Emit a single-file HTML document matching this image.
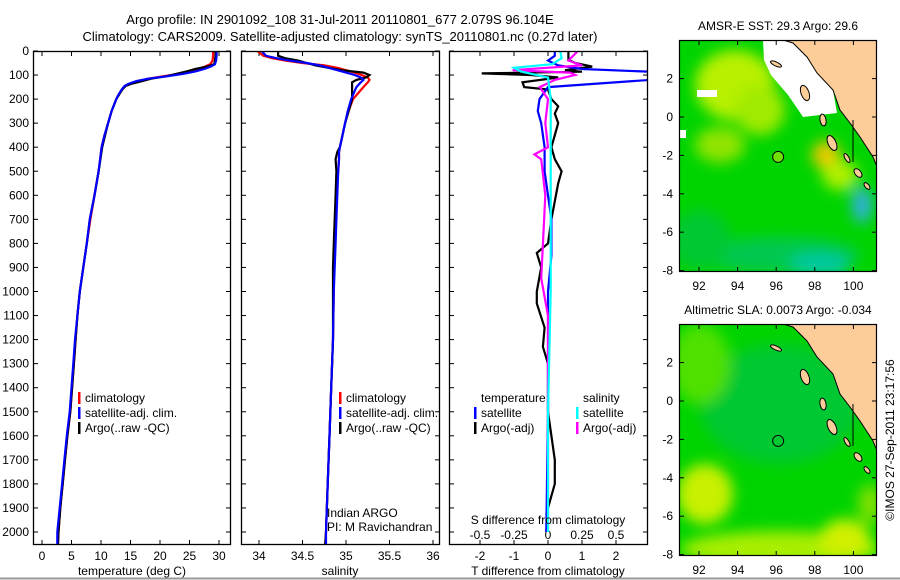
<!DOCTYPE html>
<html><head><meta charset="utf-8"><style>
html,body{margin:0;padding:0;background:#fff;}
svg{display:block;font-family:"Liberation Sans",sans-serif;}
</style></head><body>
<svg id="fig" width="900" height="580" viewBox="0 0 900 580" xmlns="http://www.w3.org/2000/svg">
<defs>
<filter id="blur" x="-20%" y="-20%" width="140%" height="140%"><feGaussianBlur stdDeviation="7"/></filter>
<clipPath id="clipP1"><rect x="33" y="51" width="198" height="494"/></clipPath>
<clipPath id="clipP2"><rect x="241" y="51" width="199" height="494"/></clipPath>
<clipPath id="clipP3"><rect x="449" y="51" width="199" height="494"/></clipPath>
<clipPath id="clipM1"><rect x="679" y="40" width="198" height="232"/></clipPath>
<clipPath id="clipM2"><rect x="679" y="324" width="198" height="232"/></clipPath>
</defs>
<text x="340" y="24" font-size="13" text-anchor="middle">Argo profile: IN 2901092_108 31-Jul-2011 20110801_677 2.079S 96.104E</text>
<text x="340" y="41" font-size="13" text-anchor="middle">Climatology: CARS2009. Satellite-adjusted climatology: synTS_20110801.nc (0.27d later)</text>
<g id="g1"></g>
<g id="g2"></g>
<g id="g3"></g>
<g id="gm1"></g>
<g id="gm2"></g>
<text transform="translate(894,440) rotate(-90)" font-size="12" text-anchor="middle">©IMOS 27-Sep-2011 23:17:56</text>
<line x1="0" y1="578.5" x2="900" y2="578.5" stroke="#999" stroke-width="2"/>
</svg>
<script>
// ---- Temperature profile data ----
const tDepth=[0,20,40,55,65,75,85,95,105,115,125,135,145,160,180,200,250,300,350,400,500,600,700,800,900,1000,1100,1200,1300,1400,1500,1600,1700,1800,1900,2000,2060];
const argoT=[29.4,29.4,29.3,29.2,28.0,26.0,24.5,22.8,21.0,18.5,17.0,15.3,14.2,13.6,13.1,12.6,11.8,11.2,10.7,10.2,9.6,8.9,8.1,7.6,7.0,6.4,6.0,5.7,5.4,5.1,4.8,4.3,3.9,3.5,3.1,2.8,2.7];
const climT=[29.0,29.0,28.9,28.5,27.6,26.6,25.0,23.2,20.5,18.0,16.5,15.0,14.2,13.6,13.0,12.6,11.8,11.2,10.6,10.1,9.6,8.9,8.2,7.6,7.0,6.4,6.0,5.7,5.4,5.1,4.8,4.3,3.9,3.5,3.1,2.8,2.7];
const satT=[29.6,29.6,29.5,29.3,28.6,27.5,26.0,24.0,21.2,18.0,16.0,14.8,14.0,13.5,13.0,12.6,11.8,11.2,10.6,10.1,9.6,8.9,8.1,7.6,7.0,6.4,6.0,5.6,5.3,5.0,4.7,4.2,3.8,3.4,3.0,2.6,2.6];
const tTicks=[0,5,10,15,20,25,30];
// ---- Salinity profile data ----
const sDepth=[0,20,30,40,50,60,70,80,90,100,110,120,130,150,200,250,300,350,400,420,450,500,600,700,800,900,1000,1200,1400,1600,1800,2000,2060];
const argoS=[34.22,34.22,34.3,34.45,34.55,34.65,34.8,34.95,35.2,35.27,35.23,35.12,35.07,35.07,35.07,35.03,34.99,34.96,34.93,34.9,34.88,34.89,34.88,34.87,34.86,34.85,34.85,34.85,34.83,34.81,34.79,34.77,34.76];
const climS=[33.98,34.05,34.15,34.3,34.5,34.75,34.9,35.0,35.1,35.18,35.25,35.27,35.25,35.2,35.08,35.03,34.99,34.96,34.93,34.92,34.92,34.91,34.89,34.88,34.87,34.86,34.86,34.85,34.83,34.81,34.79,34.77,34.76];
const satS=[34.03,34.08,34.2,34.35,34.55,34.7,34.8,34.9,35.0,35.1,35.17,35.2,35.17,35.12,35.06,35.02,34.99,34.96,34.93,34.92,34.92,34.91,34.9,34.89,34.88,34.87,34.86,34.85,34.83,34.81,34.79,34.77,34.77];
const sTicks=[34,34.5,35,35.5,36];
// ---- Difference data ----
const dtArgoDepth=[0,37,50,65,80,86,93,100,110,130,150,160,200,230,260,300,350,400,450,500,550,700,800,840,900,1000,1050,1150,1230,1300,1500,1700,1800,1900,2000];
const dtArgo=[0.6,0.6,0.8,1.3,0.5,1.0,-1.95,-0.5,0.3,-0.75,-0.7,0.0,0.1,0.3,0.2,0.3,0.2,0.1,0.2,0.4,0.3,0.1,0.0,-0.33,-0.2,-0.33,-0.33,-0.1,-0.15,0.0,0.0,0.2,0.2,0.0,-0.05];
const dtSatDepth=[0,20,40,60,75,95,105,150,170,200,250,300,400,500,600,700,850,1000,1500,2000];
const dtSat=[0.2,0.2,0.0,0.3,1.0,4.5,4.5,0.0,-0.1,-0.25,-0.3,-0.2,-0.1,-0.1,0.0,0.1,0.1,0.0,0.0,-0.05];
const dsSatDepth=[0,30,55,70,85,110,200,500,1000,1500,2000];
const dsSat=[0.09,0.1,0.03,-0.25,-0.2,0.0,0.02,0.02,0.02,0.0,0.0];
const dsArgoDepth=[0,40,60,80,90,100,120,150,200,300,400,430,450,600,830,945,1100,1500,2000];
const dsArgo=[0.22,0.15,0.25,-0.26,0.16,0.2,0.05,-0.06,0.0,-0.02,0.0,-0.1,-0.05,-0.02,-0.04,-0.05,0.0,0.0,0.0];
const dtTicks=[-2,-1,0,1,2];
const dsTicks=[-0.5,-0.25,0,0.25,0.5];
const depthTicks=[0,100,200,300,400,500,600,700,800,900,1000,1100,1200,1300,1400,1500,1600,1700,1800,1900,2000];
const latTicks=[2,0,-2,-4,-6,-8];
const lonTicks=[92,94,96,98,100];

const NS='http://www.w3.org/2000/svg';
function mk(tag,attrs,parent){const e=document.createElementNS(NS,tag);for(const k in attrs)e.setAttribute(k,attrs[k]);parent.appendChild(e);return e;}
const yD=d=>51+d*0.2405;
const xT=v=>42+5.9*v;
const xS=v=>259+87*(v-34);
const xDT=v=>548+34*v;
const xDS=v=>548+136*v;

function frame(g,x0,x1,name){
  const r=mk('rect',{x:x0+0.5,y:51.5,width:x1-x0-1,height:493,fill:'none',stroke:'#000','stroke-width':1.3},g);
  
  
}
function line(g,depths,vals,xf,color,clip,name){
  const p=depths.map((d,i)=>xf(vals[i]).toFixed(1)+','+yD(d).toFixed(1)).join(' ');
  const e=mk('polyline',{points:p,fill:'none',stroke:color,'stroke-width':2.2,'clip-path':'url(#'+clip+')'},g);
  
  
}
function xticks(g,ticks,xf,labY,fmt,top){
  ticks.forEach(t=>{
    const x=xf(t);
    mk('line',{x1:x,y1:545,x2:x,y2:540,stroke:'#000'},g);
    if(top) mk('line',{x1:x,y1:51,x2:x,y2:56,stroke:'#000'},g);
    if(labY){const tx=mk('text',{x:x,y:labY,'font-size':12,'text-anchor':'middle'},g);tx.textContent=fmt?fmt(t):t;
      
      }
  });
}
function yticks(g,x0,x1,labels){
  depthTicks.forEach(d=>{
    const y=yD(d);
    mk('line',{x1:x0,y1:y,x2:x0+5,y2:y,stroke:'#000'},g);
    mk('line',{x1:x1,y1:y,x2:x1-5,y2:y,stroke:'#000'},g);
    if(labels){const t=mk('text',{x:29,y:y+4,'font-size':12,'text-anchor':'end'},g);t.textContent=d;
      
      }
  });
}
function txt(g,x,y,s,name,anchor){const t=mk('text',{x:x,y:y,'font-size':12,'text-anchor':anchor||'start'},g);t.textContent=s;
  
  return t;}
function legendItem(g,x,y,color,label,name){
  mk('rect',{x:x,y:y-10,width:2.5,height:12,fill:color},g);
  txt(g,x+7,y,label,name);
}
// Panel 1
const g1=document.getElementById('g1');
yticks(g1,33,231,true);
xticks(g1,tTicks,xT,560,null,true);
line(g1,tDepth,climT,xT,'#f00','clipP1','climatology-temp-line');
line(g1,tDepth,argoT,xT,'#000','clipP1','argo-temp-line');
line(g1,tDepth,satT,xT,'#00f','clipP1','satellite-temp-line');
frame(g1,33,231,'temperature-axes-frame');
txt(g1,132,575,'temperature (deg C)','x-axis-title-temperature','middle');
legendItem(g1,78,402,'#f00','climatology','legend-climatology');
legendItem(g1,78,417,'#00f','satellite-adj. clim.','legend-satellite-adj');
legendItem(g1,78,432,'#000','Argo(..raw -QC)','legend-argo');
// Panel 2
const g2=document.getElementById('g2');
yticks(g2,241,440,false);
xticks(g2,sTicks,xS,560,null,true);
line(g2,sDepth,climS,xS,'#f00','clipP2','climatology-salinity-line');
line(g2,sDepth,argoS,xS,'#000','clipP2','argo-salinity-line');
line(g2,sDepth,satS,xS,'#00f','clipP2','satellite-salinity-line');
frame(g2,241,440,'salinity-axes-frame');
txt(g2,340,575,'salinity','x-axis-title-salinity','middle');
legendItem(g2,339,402,'#f00','climatology','legend-climatology-2');
legendItem(g2,339,417,'#00f','satellite-adj. clim.','legend-satellite-adj-2');
legendItem(g2,339,432,'#000','Argo(..raw -QC)','legend-argo-2');
txt(g2,327,517,'Indian ARGO','credit-indian-argo');
txt(g2,327,531,'PI: M Ravichandran','credit-pi');
// Panel 3
const g3=document.getElementById('g3');
yticks(g3,449,648,false);
xticks(g3,dtTicks,xDT,560,null,false);
dsTicks.forEach(t=>{const x=xDS(t);mk('line',{x1:x,y1:51,x2:x,y2:56,stroke:'#000'},g3);
  txt(g3,x,539,String(t),'s-diff-tick-label','middle');});
line(g3,dtArgoDepth,dtArgo,xDT,'#000','clipP3','argo-temp-diff-line');
line(g3,dtSatDepth,dtSat,xDT,'#00f','clipP3','satellite-temp-diff-line');
line(g3,dsArgoDepth,dsArgo,xDS,'#f0f','clipP3','argo-sal-diff-line');
line(g3,dsSatDepth,dsSat,xDS,'#0ff','clipP3','satellite-sal-diff-line');
frame(g3,449,648,'difference-axes-frame');
txt(g3,548,575,'T difference from climatology','x-axis-title-tdiff','middle');
txt(g3,548,524,'S difference from climatology','s-diff-title','middle');
txt(g3,481,402,'temperature','legend-temperature-heading');
txt(g3,583,402,'salinity','legend-salinity-heading');
legendItem(g3,474,417,'#00f','satellite','legend-temp-satellite');
legendItem(g3,474,432,'#000','Argo(-adj)','legend-temp-argo');
legendItem(g3,576,417,'#0ff','satellite','legend-sal-satellite');
legendItem(g3,576,432,'#f0f','Argo(-adj)','legend-sal-argo');

// ---- Maps ----
function map(gid,top,title,clip,blobs,white,fillCircle){
  const g=document.getElementById(gid);
  const lonX=l=>699+19.3*(l-92);
  const latY=l=>top+77-19.2*l;
  mk('rect',{x:679,y:top,width:198,height:232,fill:'#00d400'},g);
  const bl=mk('g',{'clip-path':'url(#'+clip+')'},g);
  const bb=mk('g',{filter:'url(#blur)'},bl);
  blobs.forEach(b=>mk('ellipse',{cx:b[0],cy:top+b[1],rx:b[2],ry:b[3],fill:b[4]},bb));
  white.forEach(p=>mk('polygon',{points:p.map(q=>q[0]+','+(top+q[1])).join(' '),fill:'#fff'},bl));
  const land=[[783,0],[793,3],[807,17],[817,33],[833,50],[840,70],[850,83],[860,97],[873,117],[877,127],[877,0]];
  mk('polygon',{points:land.map(q=>q[0]+','+(top+q[1])).join(' '),fill:'#fccc99',stroke:'#000','stroke-width':1},bl);
  const isl=[[776,24,6,2,25],[805,53,4,8,-20],[823,80,3,6,-10],[832,103,4,8,-25],[847,118,2,5,-30],[858,133,3,5,-40],[867,146,2,4,-40]];
  isl.forEach(s=>mk('ellipse',{cx:s[0],cy:top+s[1],rx:s[2],ry:s[3],transform:'rotate('+s[4]+' '+s[0]+' '+(top+s[1])+')',fill:'#fccc99',stroke:'#000','stroke-width':1},bl));
  mk('line',{x1:853,y1:top+80,x2:853,y2:top+122,stroke:'#000'},bl);
  mk('circle',{cx:lonX(96.1),cy:latY(-2.08),r:5.5,fill:fillCircle||'none',stroke:'#000','stroke-width':1},bl);
  const fr=mk('rect',{x:679.5,y:top+0.5,width:197,height:231,fill:'none',stroke:'#000','stroke-width':1.2},g);
  
  
  latTicks.forEach(l=>{const y=latY(l);mk('line',{x1:679,y1:y,x2:684,y2:y,stroke:'#000'},g);mk('line',{x1:877,y1:y,x2:872,y2:y,stroke:'#000'},g);
    txt(g,673,y+4,String(l),'lat-tick-label','end');});
  lonTicks.forEach(l=>{const x=lonX(l);mk('line',{x1:x,y1:top,x2:x,y2:top+5,stroke:'#000'},g);mk('line',{x1:x,y1:top+232,x2:x,y2:top+227,stroke:'#000'},g);
    txt(g,x,top+250,String(l),'lon-tick-label','middle');});
  txt(g,778,top-10,title,'map-title','middle');
}
map('gm1',40,'AMSR-E SST: 29.3 Argo: 29.6','clipM1',
 [[735,45,40,35,'#b8f000'],[760,70,25,25,'#a0ea00'],[720,105,25,18,'#90e400'],[826,115,14,14,'#f0c800'],[840,135,18,15,'#b0f000'],[862,165,10,18,'#30b0e0'],[780,215,80,18,'#00c850'],[700,200,30,30,'#00c830'],[820,225,30,12,'#00c8a0']],
 [[[763,0],[783,0],[793,3],[807,17],[817,33],[833,50],[837,73],[803,77],[797,68],[788,55],[771,35],[764,20]],[[697,50],[717,50],[717,57],[697,57]],[[679,90],[686,90],[686,98],[679,98]]],
 '#70e000');
map('gm2',324,'Altimetric SLA: 0.0073 Argo: -0.034','clipM2',
 [[780,80,80,60,'#00c830'],[700,40,30,40,'#50e000'],[705,170,28,30,'#c8f000'],[780,225,100,18,'#a8ee00'],[845,215,25,20,'#d0f000'],[870,180,12,20,'#80e000']],
 [],null);
</script>
</body></html>
